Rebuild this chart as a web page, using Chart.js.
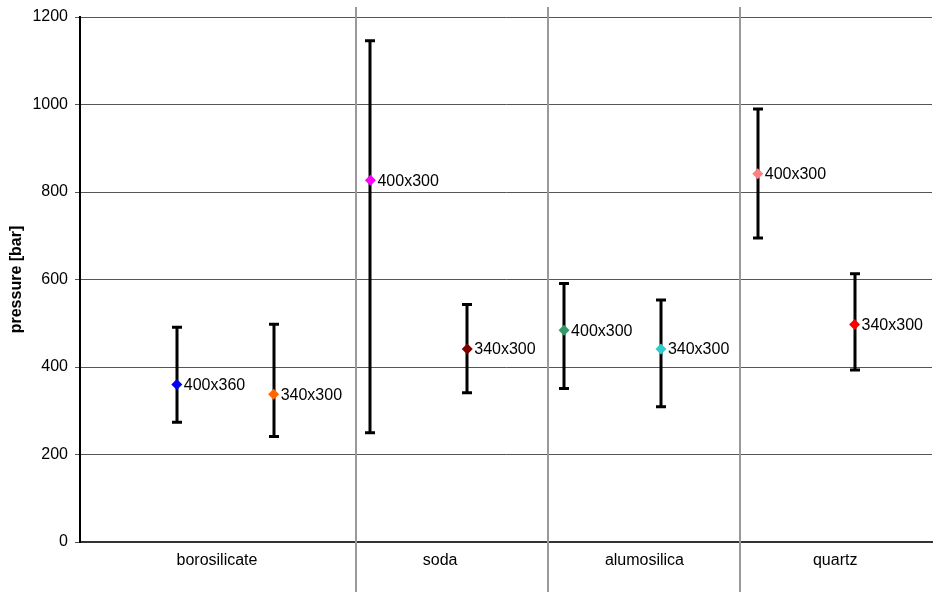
<!DOCTYPE html>
<html>
<head>
<meta charset="utf-8">
<script src="https://cdn.jsdelivr.net/npm/chart.js@4"></script>
<style>
  html, body { margin: 0; padding: 0; background: #fff; }
  #wrap { width: 940px; height: 592px; }
</style>
</head>
<body>
<div id="wrap"><canvas id="grafico" width="940" height="592"></canvas></div>
<script>
// glass types and where their labels / separators sit on the x axis
const categorias = ['borosilicate', 'soda', 'alumosilica', 'quartz'];
const posCategorias = [1.415, 3.72, 5.83, 7.80];
const separadores = [2.85, 4.83, 6.82];

// one point per sample
const posX = [1, 2, 3, 4, 5, 6, 7, 8];
const etiquetas = ['400x360', '340x300', '400x300', '340x300', '400x300', '340x300', '400x300', '340x300'];
const presion = [360, 338, 827, 441, 484, 441, 842, 497];
const presionMin = [274, 241, 250, 341, 351, 309, 695, 393];
const presionMax = [491, 498, 1146, 543, 591, 553, 990, 613];
const colores = ['#0000ff', '#ff6600', '#ff00ff', '#800000', '#339966', '#33cccc', '#ff8080', '#ff0000'];

const yTicks = [0, 200, 400, 600, 800, 1000, 1200];

const fuente = "'Liberation Sans', Arial, sans-serif";

const puntos = posX.map((x, i) => ({ x: x, y: presion[i] }));

// vertical separators between glass types
const pluginSeparadores = {
    id: 'separadores',
    beforeDatasetsDraw(chart) {
        const ctx = chart.ctx;
        const xs = chart.scales.x;
        ctx.save();
        ctx.strokeStyle = '#999999';
        ctx.lineWidth = 2;
        separadores.forEach(s => {
            const px = Math.round(xs.getPixelForValue(s));
            ctx.beginPath();
            ctx.moveTo(px, 7);
            ctx.lineTo(px, chart.height);
            ctx.stroke();
        });
        ctx.restore();
    }
};

// min/max bars with caps
const pluginErrores = {
    id: 'errores',
    beforeDatasetsDraw(chart) {
        const ctx = chart.ctx;
        const xs = chart.scales.x;
        const ys = chart.scales.y;
        ctx.save();
        ctx.strokeStyle = '#000000';
        ctx.lineWidth = 3;
        posX.forEach((x, i) => {
            const px = Math.round(xs.getPixelForValue(x));
            const yTop = ys.getPixelForValue(presionMax[i]);
            const yBot = ys.getPixelForValue(presionMin[i]);
            ctx.beginPath();
            ctx.moveTo(px, yTop);
            ctx.lineTo(px, yBot);
            ctx.moveTo(px - 5, yTop);
            ctx.lineTo(px + 5, yTop);
            ctx.moveTo(px - 5, yBot);
            ctx.lineTo(px + 5, yBot);
            ctx.stroke();
        });
        ctx.restore();
    }
};

// sample labels next to each marker
const pluginEtiquetas = {
    id: 'etiquetas',
    afterDatasetsDraw(chart) {
        const ctx = chart.ctx;
        const xs = chart.scales.x;
        const ys = chart.scales.y;
        ctx.save();
        ctx.fillStyle = '#000000';
        ctx.font = '16px ' + fuente;
        ctx.textAlign = 'left';
        ctx.textBaseline = 'middle';
        posX.forEach((x, i) => {
            ctx.fillText(etiquetas[i], xs.getPixelForValue(x) + 7, ys.getPixelForValue(presion[i]) + 1);
        });
        ctx.restore();
    }
};

const ctx = document.getElementById('grafico').getContext('2d');
new Chart(ctx, {
    type: 'scatter',
    data: {
        datasets: [{
            data: puntos,
            pointStyle: 'rectRot',
            pointRadius: 5.5,
            pointHoverRadius: 5.5,
            pointBackgroundColor: colores,
            pointBorderColor: colores,
            pointBorderWidth: 0
        }]
    },
    options: {
        responsive: false,
        animation: false,
        layout: { padding: { top: 17, right: 8, left: 0, bottom: 0 } },
        plugins: {
            legend: { display: false },
            tooltip: { enabled: false }
        },
        scales: {
            x: {
                type: 'linear',
                min: 0,
                max: 8.8,
                afterFit: function (scale) { scale.height = 50; },
                afterBuildTicks: function (scale) {
                    scale.ticks = posCategorias.map(v => ({ value: v }));
                },
                grid: { display: false },
                border: { display: true, color: '#333333', width: 2 },
                ticks: {
                    autoSkip: false,
                    maxRotation: 0,
                    padding: 1,
                    color: '#000000',
                    font: { family: fuente, size: 16 },
                    callback: function (value, index) { return categorias[index]; }
                }
            },
            y: {
                min: 0,
                max: 1200,
                afterFit: function (scale) { scale.width = 80; },
                afterBuildTicks: function (scale) {
                    scale.ticks = yTicks.map(v => ({ value: v }));
                },
                grid: { color: '#555555', lineWidth: 1, tickLength: 5 },
                border: { display: true, color: '#000000', width: 2 },
                ticks: {
                    padding: 7,
                    color: '#000000',
                    font: { family: fuente, size: 16 },
                    callback: function (value) { return String(value); }
                },
                title: {
                    display: true,
                    text: 'pressure [bar]',
                    color: '#000000',
                    font: { family: fuente, size: 16, weight: 'bold' },
                    padding: { top: 7, bottom: 0 }
                }
            }
        }
    },
    plugins: [pluginSeparadores, pluginErrores, pluginEtiquetas]
});
</script>
</body>
</html>
